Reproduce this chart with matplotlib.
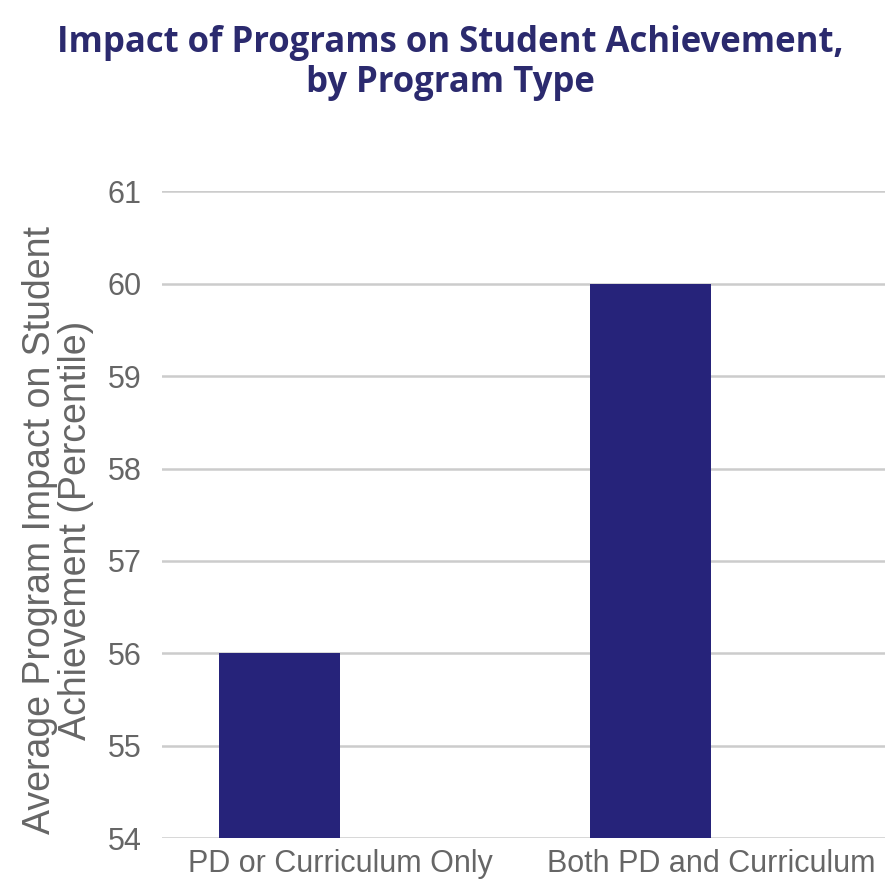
import matplotlib.pyplot as plt
import numpy as np

# data
categories = ["PD or Curriculum Only", "Both PD and Curriculum"]
impact = [56, 60]
y_ticks = [54, 55, 56, 57, 58, 59, 60, 61]

navy = "#26237a"
grey_text = "#666666"

fig = plt.figure(figsize=(8.96, 8.86), dpi=100)
ax = fig.add_axes([0.181, 0.054, 0.807, 0.730])

x = np.arange(len(categories))
bar_w = 0.326
# bars sit on the left half of each category slot
ax.bar(x - bar_w / 2, impact, width=bar_w, color=navy, zorder=3)

ax.set_ylim(54, 61)
ax.set_xlim(-0.48, 1.47)
ax.set_yticks(y_ticks)
ax.set_xticks(x)
ax.set_xticklabels(categories)
ax.grid(axis="y", color="#cccccc", linewidth=1.8, zorder=0)
ax.tick_params(length=0, labelsize=22, labelcolor=grey_text, pad=15)
ax.tick_params(axis="x", pad=8)
for lab in ax.get_xticklabels() + ax.get_yticklabels():
    lab.set_family("Liberation Sans")
for s in ax.spines.values():
    s.set_visible(False)

# y axis title, placed by hand like the original
fig.text(58 / 896, 1 - 530 / 886,
         "Average Program Impact on Student\nAchievement (Percentile)",
         rotation=90, ha="center", va="center", fontsize=27,
         color=grey_text, family="Liberation Sans", linespacing=1.03)

fig.text(0.503, 0.929, "Impact of Programs on Student Achievement,\nby Program Type",
         ha="center", va="center", fontsize=25, fontweight="bold",
         family="Open Sans", color="#2b2a6e", linespacing=1.15)

fig.savefig("out.png", dpi=100)
